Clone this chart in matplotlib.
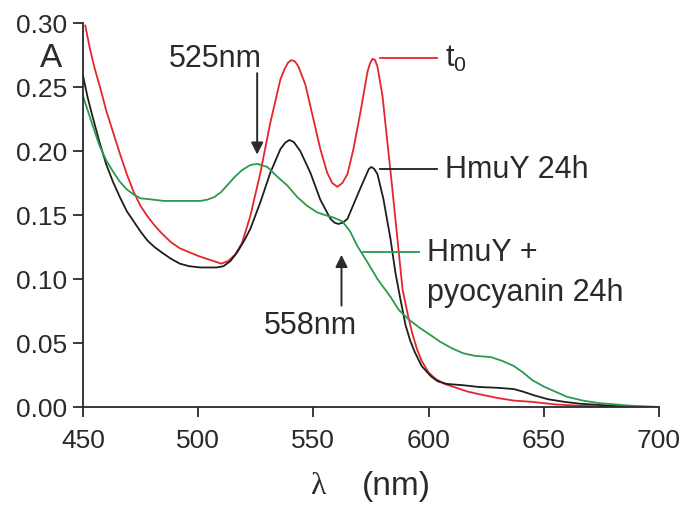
import matplotlib
matplotlib.use("Agg")
import matplotlib.pyplot as plt

# wavelength (nm) / absorbance
t0_nm = [451, 453, 455, 458, 460, 463, 466, 469, 472, 475, 478, 481, 484, 488,
         492, 496, 500, 505, 510, 513, 516, 519, 522.6, 527, 531.3, 535.7, 537.5,
         539, 540.4, 542, 543.5, 546.5, 550, 553, 556, 558.2, 560.4, 562.6,
         564.8, 567.4, 570.4, 573.5, 574.7, 575.7, 576.8, 577.8, 580, 582,
         584.3, 586.5, 588.7, 591, 593, 595, 597, 600, 603, 607, 612, 617, 622,
         630, 637, 645, 655, 665, 680]
t0_abs = [0.298, 0.280, 0.265, 0.246, 0.232, 0.215, 0.198, 0.182, 0.168, 0.157,
          0.149, 0.142, 0.136, 0.129, 0.124, 0.121, 0.118, 0.115, 0.112, 0.114,
          0.119, 0.128, 0.149, 0.183, 0.222, 0.256, 0.264, 0.269, 0.271, 0.270,
          0.266, 0.252, 0.225, 0.2016, 0.183, 0.175, 0.172, 0.175, 0.182, 0.2016,
          0.230, 0.262, 0.269, 0.272, 0.271, 0.266, 0.243, 0.209, 0.170, 0.131,
          0.092, 0.072, 0.057, 0.045, 0.036, 0.027, 0.022, 0.018, 0.015, 0.012,
          0.010, 0.007, 0.005, 0.004, 0.002, 0.001, 0.000]

hmuy_nm = [450, 452, 454, 457, 460, 463, 466, 469, 472, 475, 478, 481, 484, 488,
           492, 496, 501, 505, 508, 511, 514, 517, 520, 522.6, 527, 531.3, 535.7,
           537.8, 539.6, 541.5, 544.3, 548.7, 553, 557.4, 559.2, 560.9, 562.8,
           564.8, 569, 572.6, 574.1, 575.2, 576.4, 577.8, 580.4, 583.5, 585.6,
           587.8, 590, 592, 594, 597, 601, 604, 608, 615, 622, 630, 637, 641, 646,
           652, 659, 666, 675, 688]
hmuy_abs = [0.259, 0.242, 0.228, 0.208, 0.190, 0.176, 0.164, 0.153, 0.145, 0.137,
            0.130, 0.125, 0.121, 0.116, 0.112, 0.110, 0.109, 0.109, 0.109, 0.110,
            0.114, 0.121, 0.130, 0.139, 0.160, 0.183, 0.2015, 0.2065, 0.2086,
            0.207, 0.200, 0.183, 0.162, 0.147, 0.144, 0.143, 0.144, 0.147, 0.165,
            0.180, 0.186, 0.1875, 0.186, 0.182, 0.1625, 0.131, 0.105, 0.084,
            0.064, 0.052, 0.043, 0.032, 0.024, 0.020, 0.018, 0.017, 0.0156, 0.015,
            0.014, 0.012, 0.009, 0.006, 0.004, 0.0025, 0.0015, 0.000]

pyo_nm = [450, 452, 454, 457, 460, 463, 466, 469, 472, 475, 478, 485, 492, 501,
          504, 507, 510, 513, 516, 519, 522.6, 525.6, 530, 534.3, 538.7, 543,
          547.4, 551.7, 555, 558.7, 562.6, 566, 569, 573.5, 577.8, 583.5, 587,
          591, 596, 601, 605, 610, 615, 620, 627, 632, 637, 641, 645, 650, 655,
          660, 667, 674, 688, 700]
pyo_abs = [0.243, 0.232, 0.221, 0.205, 0.193, 0.184, 0.176, 0.170, 0.166, 0.163,
           0.1625, 0.161, 0.161, 0.161, 0.162, 0.164, 0.168, 0.174, 0.180, 0.185,
           0.189, 0.190, 0.1875, 0.180, 0.173, 0.164, 0.157, 0.152, 0.150, 0.148,
           0.145, 0.137, 0.126, 0.113, 0.100, 0.086, 0.076, 0.069, 0.062, 0.056,
           0.051, 0.046, 0.042, 0.040, 0.039, 0.036, 0.032, 0.027, 0.021, 0.016,
           0.012, 0.008, 0.005, 0.003, 0.001, 0.000]

x_ticks = [450, 500, 550, 600, 650, 700]
y_ticks = [0.00, 0.05, 0.10, 0.15, 0.20, 0.25, 0.30]

RED = "#e4262c"
BLACK = "#1e1e1e"
GREEN = "#2c9a4c"
INK = "#2a2a2a"

plt.rcParams["font.family"] = ["Liberation Sans", "DejaVu Sans"]
plt.rcParams["mathtext.fontset"] = "custom"
plt.rcParams["mathtext.rm"] = "Liberation Sans"

fig = plt.figure(figsize=(6.83, 5.06), dpi=100)
ax = fig.add_axes([0.1215, 0.1937, 0.8433, 0.7589])

ax.plot(t0_nm, t0_abs, color=RED, lw=1.3)
ax.plot(hmuy_nm, hmuy_abs, color=BLACK, lw=1.3)
ax.plot(pyo_nm, pyo_abs, color=GREEN, lw=1.3)

ax.set_xlim(450, 700)
ax.set_ylim(0, 0.30)
ax.set_xticks(x_ticks)
ax.set_yticks(y_ticks)
ax.set_yticklabels([f"{v:.2f}" for v in y_ticks])
for side in ("top", "right"):
    ax.spines[side].set_visible(False)
for side in ("left", "bottom"):
    ax.spines[side].set_color(INK)
    ax.spines[side].set_linewidth(1.3)
ax.tick_params(direction="out", length=7.2, width=1.3, color=INK,
               labelcolor=INK, labelsize=19)
ax.tick_params(axis="y", pad=4)
ax.tick_params(axis="x", pad=8)

# series labels with short leader lines
ax.plot([579, 603.5], [0.273, 0.273], color=RED, lw=1.3)
ax.text(607, 0.273, r"t$_\mathregular{0}$", fontsize=22, color=INK, va="center")
ax.plot([579, 603.5], [0.186, 0.186], color=BLACK, lw=1.3)
ax.text(607, 0.186, "HmuY 24h", fontsize=22, color=INK, va="center")
ax.plot([571.5, 596], [0.121, 0.121], color=GREEN, lw=1.3)
ax.text(599.5, 0.121, "HmuY +", fontsize=22, color=INK, va="center")
ax.text(599.5, 0.090, "pyocyanin 24h", fontsize=22, color=INK, va="center")

# isosbestic / shoulder markers
arrow = dict(arrowstyle="-|>", color=INK, lw=1.4, mutation_scale=18)
ax.annotate("", xy=(525.6, 0.195), xytext=(525.6, 0.263), arrowprops=arrow)
ax.text(507.4, 0.273, "525nm", fontsize=22, color=INK, ha="center", va="center")
ax.annotate("", xy=(562.2, 0.121), xytext=(562.2, 0.077), arrowprops=arrow)
ax.text(548.7, 0.064, "558nm", fontsize=22, color=INK, ha="center", va="center")

ax.text(-0.056, 0.91, "A", transform=ax.transAxes, fontsize=24, color=INK,
        ha="center", va="center")
# axis title: lambda and unit set apart, as in the original
fig.text(318 / 683, 1 - 487 / 506, "λ", family="Liberation Serif", fontsize=23,
         color=INK, ha="center", va="center")
fig.text(396 / 683, 1 - 487 / 506, "(nm)", fontsize=24, color=INK,
         ha="center", va="center")

fig.savefig("out.png", dpi=100)
